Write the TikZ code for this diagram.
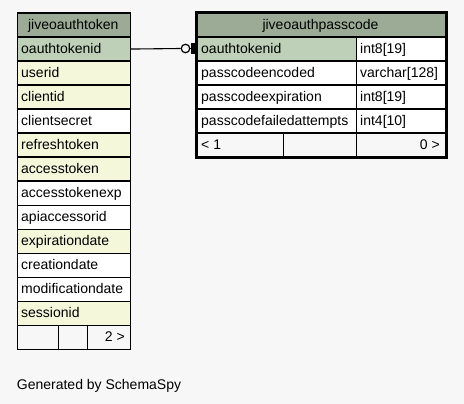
\documentclass[tikz,border=0pt]{standalone}
\usepackage{fontspec}
\setmainfont{Liberation Sans}
\definecolor{bgc}{HTML}{F7F7F7}
\definecolor{hdr}{HTML}{9BAB96}
\definecolor{pk}{HTML}{BED1B8}
\definecolor{idx}{HTML}{F4F7DA}
\begin{document}
\begin{tikzpicture}[x=1pt,y=-1pt,
  cell/.style={draw=black, line width=1.1pt, inner sep=0pt, anchor=north west, minimum height=24pt},
  txt/.style={anchor=base west, inner sep=0pt, font=\fontsize{14}{16}\selectfont},
  rtxt/.style={anchor=base east, inner sep=0pt, font=\fontsize{14}{16}\selectfont},
  ctxt/.style={anchor=base, inner sep=0pt, font=\fontsize{14}{16}\selectfont}]
\fill[bgc] (0,0) rectangle (464,404);
\useasboundingbox (0,0) rectangle (464,404);
% ---- left table: jiveoauthtoken
\node[cell, fill=hdr, minimum width=113.5pt] (Lh) at (16.5,12.5) {};
\node[ctxt] at (73.25,29.3) {jiveoauthtoken};
\foreach \i/\t/\c in {1/oauthtokenid/pk, 2/userid/idx, 3/clientid/idx, 4/clientsecret/white,
  5/refreshtoken/idx, 6/accesstoken/idx, 7/accesstokenexp/white, 8/apiaccessorid/white,
  9/expirationdate/idx, 10/creationdate/white, 11/modificationdate/white, 12/sessionid/idx} {
  \node[cell, fill=\c, minimum width=113.5pt] (L\i) at (16.5,12.5+24*\i) {};
  \node[txt] (Lt\i) at (21,29.3+24*\i) {\t};
}
\node[cell, fill=bgc, minimum width=41.5pt] (Lf1) at (16.5,324.5) {};
\node[cell, fill=bgc, minimum width=29.3pt] (Lf2) at (58,324.5) {};
\node[cell, fill=bgc, minimum width=42.7pt] (Lf3) at (87.3,324.5) {};
\node[rtxt] at (125,341.3) {2 >};
% ---- right table: jiveoauthpasscode
\node[cell, fill=hdr, minimum width=249pt] (Rh) at (196,12.5) {};
\node[ctxt] at (320.5,29.3) {jiveoauthpasscode};
\foreach \i/\t/\ty/\c in {1/oauthtokenid/int8[19]/pk, 2/passcodeencoded/varchar[128]/white,
  3/passcodeexpiration/int8[19]/white, 4/passcodefailedattempts/int4[10]/white} {
  \node[cell, fill=\c, minimum width=160pt] (R\i) at (196,12.5+24*\i) {};
  \node[cell, fill=white, minimum width=89pt] (RT\i) at (356,12.5+24*\i) {};
  \node[txt] (Rt\i) at (201,29.3+24*\i) {\t};
  \node[txt] (Rty\i) at (360,29.3+24*\i) {\ty};
}
\node[cell, fill=bgc, minimum width=86.7pt] (Rf1) at (196,132.5) {};
\node[cell, fill=bgc, minimum width=73.3pt] (Rf2) at (282.7,132.5) {};
\node[cell, fill=bgc, minimum width=89pt] (Rf3) at (356,132.5) {};
\node[txt] at (201,149.3) {< 1};
\node[rtxt] at (440,149.3) {0 >};
\draw[line width=3pt] (Rh.north west) rectangle (Rf3.south east);
% ---- connector
\node[circle, draw=black, fill=bgc, line width=1.2pt, minimum size=8.5pt, inner sep=0pt] (cr) at (185.5,48.5) {};
\node[fill=black, inner sep=0pt, minimum width=4.5pt, minimum height=11pt, anchor=east] (bar) at (196,48.5) {};
\draw[line width=1.1pt] (L1.east) -- (cr.west);
\draw[line width=1.1pt] (cr.east) -- (bar.west);
% ---- footer text
\node[txt] (gen) at (16.7,389) {Generated by SchemaSpy};
\end{tikzpicture}
\end{document}
